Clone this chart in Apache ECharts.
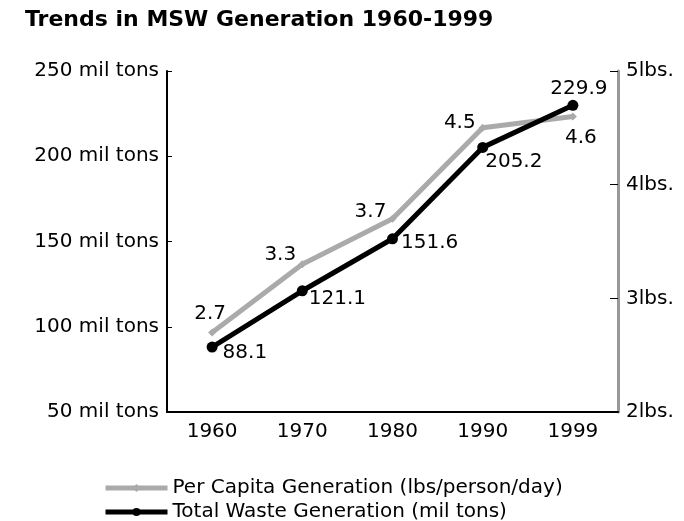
<!DOCTYPE html>
<html><head><meta charset="utf-8">
<script src="https://cdn.jsdelivr.net/npm/echarts@6/dist/echarts.min.js"></script>
<style>html,body{margin:0;padding:0;background:#fff}#c{width:684px;height:521px}</style>
</head><body><div id="c"></div>
<script>
const years = ['1960','1970','1980','1990','1999'];
const perCapita = [2.7, 3.3, 3.7, 4.5, 4.6];
const totalWaste = [88.1, 121.1, 151.6, 205.2, 229.9];
const leftTicks = [50, 100, 150, 200, 250];
const rightTicks = [2, 3, 4, 5];
const seriesNames = ['Per Capita Generation (lbs/person/day)', 'Total Waste Generation (mil tons)'];

const FONT = 'DejaVu Sans';
const perLabel = [
  {position:'top', offset:[-2,0]},
  {position:'top', offset:[-22,10]},
  {position:'top', offset:[-22,12]},
  {position:'left', offset:[2,-5]},
  {position:'bottom', offset:[8,2]}
];
const totLabel = [
  {position:'right', offset:[0,6]},
  {position:'right', offset:[-4,8]},
  {position:'right', offset:[-2,4]},
  {position:'right', offset:[-8,14]},
  {position:'top', offset:[6,4]}
];
const legendBase = {orient:'horizontal', left:98, itemWidth:62, itemHeight:10,
  lineStyle:{width:5},
  textStyle:{fontFamily:FONT, fontSize:20, color:'#000'}};

const chart = echarts.init(document.getElementById('c'), null, {renderer:'canvas'});
chart.setOption({
  backgroundColor:'#fff',
  animation:false,
  title:{text:'Trends in MSW Generation 1960-1999', left:20, top:4,
    textStyle:{fontFamily:FONT, fontWeight:'bold', fontSize:22, color:'#000'}},
  grid:{left:167, right:66, top:71, bottom:109},
  legend:[
    Object.assign({}, legendBase, {top:473, data:[seriesNames[0]]}),
    Object.assign({}, legendBase, {top:497, data:[seriesNames[1]]})
  ],
  xAxis:{type:'category', data:years, boundaryGap:true,
    axisLine:{lineStyle:{color:'#000', width:2}},
    axisTick:{inside:true, alignWithLabel:true, length:5, lineStyle:{color:'#000'}},
    axisLabel:{fontFamily:FONT, fontSize:20, color:'#000', margin:10},
    splitLine:{show:false}},
  yAxis:[
    {type:'value', min:50, max:250, interval:50, position:'left',
     axisLine:{show:true, lineStyle:{color:'#000', width:2}},
     axisTick:{show:true, inside:true, length:5, lineStyle:{color:'#000'}},
     axisLabel:{fontFamily:FONT, fontSize:20, color:'#000', margin:8,
       formatter: v => leftTicks.includes(v) ? v + ' mil tons' : ''},
     splitLine:{show:false}},
    {type:'value', min:2, max:5, interval:1, position:'right',
     axisLine:{show:true, lineStyle:{color:'#999', width:3}},
     axisTick:{show:true, inside:true, length:8, lineStyle:{color:'#000'}},
     axisLabel:{fontFamily:FONT, fontSize:20, color:'#000', margin:8,
       formatter: v => rightTicks.includes(v) ? v + 'lbs.' : ''},
     splitLine:{show:false}}
  ],
  series:[
    {name:seriesNames[0], type:'line', yAxisIndex:1,
     data: perCapita.map((v,i)=>({value:v, label:perLabel[i]})),
     symbol:'diamond', symbolSize:8,
     itemStyle:{color:'#aaa'}, lineStyle:{color:'#aaa', width:5},
     label:{show:true, fontFamily:FONT, fontSize:20, color:'#000', formatter:p=>p.value.toFixed(1)}},
    {name:seriesNames[1], type:'line', yAxisIndex:0,
     data: totalWaste.map((v,i)=>({value:v, label:totLabel[i]})),
     symbol:'circle', symbolSize:11,
     itemStyle:{color:'#000'}, lineStyle:{color:'#000', width:5},
     label:{show:true, fontFamily:FONT, fontSize:20, color:'#000', formatter:p=>p.value.toFixed(1)}}
  ]
});
</script></body></html>
